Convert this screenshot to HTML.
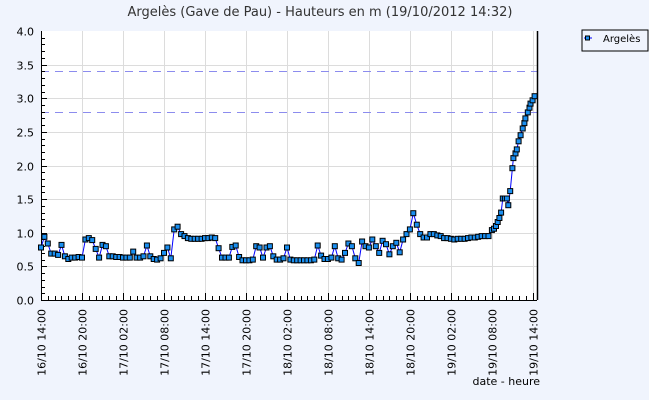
<!DOCTYPE html>
<html><head><meta charset="utf-8">
<style>
html,body{margin:0;padding:0;background:#f0f4fd;}
svg{display:block;font-family:"DejaVu Sans","Liberation Sans",sans-serif;}
</style></head>
<body>
<svg id="chart" width="649" height="400" xmlns="http://www.w3.org/2000/svg">
<rect x="0" y="0" width="649" height="400" fill="#f0f4fd"/>
<text x="320" y="16" text-anchor="middle" font-size="13" fill="#333">Argelès (Gave de Pau) - Hauteurs en m (19/10/2012 14:32)</text>
<rect x="41" y="31" width="496" height="269" fill="#fff"/>
<g id="grid"></g>
<g id="thresholds"></g>
<g id="axes"></g>
<g id="series"></g>
<text x="540" y="385" text-anchor="end" font-size="11" fill="#000">date - heure</text>
<g>
<rect x="582" y="30" width="66" height="21" fill="#f0f4fd" stroke="#000" stroke-width="1"/>
<line x1="584" y1="38" x2="592" y2="38" stroke="#00f" stroke-width="1"/>
<rect x="585.5" y="36" width="4" height="4" fill="#1a8ff0" stroke="#000" stroke-width="1"/>
<text x="603" y="42" font-size="10" fill="#000">Argelès</text>
</g>
</svg>
<script>
const hours = [0,0.5,1,1.5,2,2.5,3,3.5,4,4.5,5,5.5,6,6.5,7,7.5,8,8.5,9,9.5,10,10.5,11,11.5,12,12.5,13,13.5,14,14.5,15,15.5,16,16.5,17,17.5,18,18.5,19,19.5,20,20.5,21,21.5,22,22.5,23,23.5,24,24.5,25,25.5,26,26.5,27,27.5,28,28.5,29,29.5,30,30.5,31,31.5,32,32.5,33,33.5,34,34.5,35,35.5,36,36.5,37,37.5,38,38.5,39,39.5,40,40.5,41,41.5,42,42.5,43,43.5,44,44.5,45,45.5,46,46.5,47,47.5,48,48.5,49,49.5,50,50.5,51,51.5,52,52.5,53,53.5,54,54.5,55,55.5,56,56.5,57,57.5,58,58.5,59,59.5,60,60.5,61,61.5,62,62.5,63,63.5,64,64.5,65,65.5,66,66.3,66.6,66.85,67.1,67.35,67.6,67.9,68.2,68.4,68.67,69,69.15,69.45,69.65,69.9,70.2,70.5,70.75,70.9,71.25,71.5,71.65,71.95,72.25];
const levels = [0.78,0.94,0.84,0.69,0.69,0.67,0.82,0.65,0.61,0.63,0.63,0.64,0.63,0.90,0.92,0.89,0.76,0.63,0.82,0.80,0.65,0.65,0.64,0.64,0.63,0.63,0.63,0.72,0.63,0.63,0.65,0.81,0.65,0.61,0.60,0.62,0.70,0.78,0.62,1.05,1.09,0.98,0.95,0.92,0.91,0.91,0.91,0.91,0.92,0.92,0.93,0.92,0.77,0.63,0.63,0.63,0.79,0.81,0.64,0.59,0.59,0.59,0.60,0.80,0.78,0.63,0.78,0.80,0.65,0.60,0.60,0.62,0.78,0.60,0.59,0.59,0.59,0.59,0.59,0.59,0.60,0.81,0.66,0.61,0.61,0.63,0.80,0.62,0.60,0.70,0.84,0.80,0.62,0.55,0.87,0.80,0.78,0.90,0.80,0.70,0.88,0.83,0.68,0.80,0.85,0.71,0.90,0.98,1.05,1.29,1.12,0.98,0.93,0.93,0.98,0.98,0.96,0.95,0.92,0.92,0.91,0.90,0.91,0.91,0.91,0.92,0.93,0.93,0.94,0.95,0.95,0.95,1.04,1.06,1.10,1.16,1.22,1.30,1.51,1.51,1.51,1.41,1.62,1.96,2.11,2.18,2.24,2.36,2.45,2.55,2.63,2.70,2.79,2.86,2.92,2.97,3.03];
const yTicks = ["0.0","0.5","1.0","1.5","2.0","2.5","3.0","3.5","4.0"];
const xTickLabels = ["16/10  14:00","16/10  20:00","17/10  02:00","17/10  08:00","17/10  14:00","17/10  20:00","18/10  02:00","18/10  08:00","18/10  14:00","18/10  20:00","19/10  02:00","19/10  08:00","19/10  14:00"];
const thresholds = [3.4, 2.8];

const NS="http://www.w3.org/2000/svg";
const X0=41, X1=537, Y0=300, Y1=31, HMAX=72.6, VMAX=4;
function xs(h){return X0+(X1-X0)*h/HMAX;}
function ys(v){return Y0-(Y0-Y1)*v/VMAX;}
function mk(tag,attrs,parent){const e=document.createElementNS(NS,tag);for(const k in attrs)e.setAttribute(k,attrs[k]);parent.appendChild(e);return e;}
const grid=document.getElementById('grid'),axes=document.getElementById('axes'),series=document.getElementById('series'),thr=document.getElementById('thresholds');

yTicks.forEach((lab,i)=>{
  const v=parseFloat(lab),y=Math.round(ys(v))+0.5;
  if(i>0&&i<yTicks.length-1){const g=mk('line',{x1:X0,x2:X1,y1:y,y2:y,stroke:'#dcdcdc','stroke-width':1},grid);
  
  }
  const t=mk('text',{x:34,y:y+4,'text-anchor':'end','font-size':11,fill:'#000'},axes);t.textContent=lab;
  
  
});
for(let k=0;k<40;k++){
  const y=Math.round(ys(k*0.1))+0.5,len=(k%5===0)?6:4;
  const l=mk('line',{x1:X0,x2:X0+len,y1:y,y2:y,stroke:'#000','stroke-width':1},axes);
  
  
}
xTickLabels.forEach((lab,i)=>{
  const x=Math.round(xs(i*6))+0.5;
  if(i>0){const g=mk('line',{x1:x,x2:x,y1:Y1,y2:Y0,stroke:'#dcdcdc','stroke-width':1},grid);
  
  }
  const t=mk('text',{x:0,y:0,'text-anchor':'end','font-size':11,fill:'#000','xml:space':'preserve',transform:'translate('+(x+4)+',309) rotate(-90)'},axes);
  t.textContent=lab;
  
  
});
for(let h=0;h<=72;h++){
  const x=Math.round(xs(h))+0.5,len=(h%6===0)?7:4;
  const l=mk('line',{x1:x,x2:x,y1:Y0,y2:Y0-len,stroke:'#000','stroke-width':1},axes);
  
  
}
const la=mk('line',{x1:X0+0.5,x2:X0+0.5,y1:Y1,y2:Y0,stroke:'#000','stroke-width':1},axes);


const ba=mk('line',{x1:X0,x2:X1,y1:Y0+0.5,y2:Y0+0.5,stroke:'#000','stroke-width':1},axes);


const ra=mk('line',{x1:X1+0.5,x2:X1+0.5,y1:Y1,y2:Y0,stroke:'#000','stroke-width':1.5},axes);


thresholds.forEach(v=>{
  const y=Math.round(ys(v))+0.5;
  const l=mk('line',{x1:X0,x2:X1,y1:y,y2:y,stroke:'#8c8cee','stroke-width':1,'stroke-dasharray':'8,6'},thr);
  
  
});
const pts=hours.map((h,i)=>xs(h).toFixed(1)+','+ys(levels[i]).toFixed(1)).join(' ');
const pl=mk('polyline',{points:pts,fill:'none',stroke:'#0000ff','stroke-width':1},series);


hours.forEach((h,i)=>{
  const r=mk('rect',{x:(xs(h)-2.5).toFixed(1),y:(ys(levels[i])-2.5).toFixed(1),width:5,height:5,fill:'#1a8ff0',stroke:'#000','stroke-width':1},series);
  
  
});
</script>
</body></html>
